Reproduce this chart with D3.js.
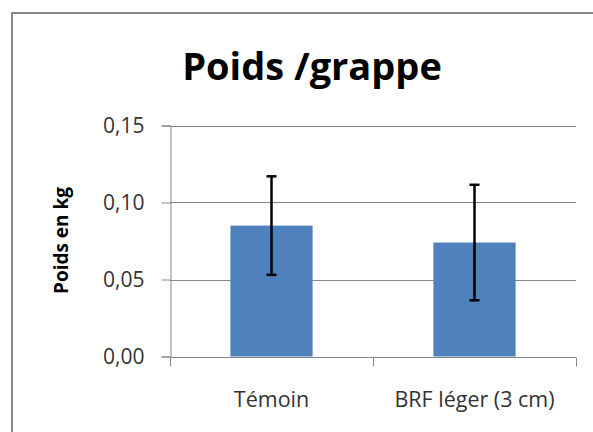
<!DOCTYPE html>
<html>
<head>
<meta charset="utf-8">
<script src="https://cdn.jsdelivr.net/npm/d3@7"></script>
<style>
  body { margin: 0; background: #fff; }
</style>
</head>
<body>
<div id="chart"></div>
<script>
const categories = ["Témoin", "BRF léger (3 cm)"];
const values = [0.085, 0.074];
const errors = [0.032, 0.0375];
const yTicks = [0, 0.05, 0.10, 0.15];

const width = 593, height = 432;
const margin = {top: 125.5, right: 17, bottom: 75.5, left: 170};

const svg = d3.select("#chart").append("svg")
    .attr("width", width)
    .attr("height", height);

// chart frame (runs off the picture on the right and bottom)
svg.append("rect")
    .attr("x", 12).attr("y", 13)
    .attr("width", 700).attr("height", 600)
    .attr("fill", "none")
    .attr("stroke", "#878787")
    .attr("stroke-width", 2);

const x = d3.scaleBand()
    .domain(categories)
    .range([margin.left, width - margin.right])
    .paddingInner(0.595)
    .paddingOuter(0.2975);

const y = d3.scaleLinear()
    .domain([0, 0.15])
    .range([height - margin.bottom, margin.top]);

const fmt = d => d3.format(".2f")(d).replace(".", ",");

// gridlines
svg.append("g")
    .selectAll("line")
    .data(yTicks.slice(1))
    .join("line")
    .attr("x1", margin.left).attr("x2", width - margin.right)
    .attr("y1", d => Math.round(y(d)) + 0.5).attr("y2", d => Math.round(y(d)) + 0.5)
    .attr("stroke", "#868686");

// y axis
const yAxis = svg.append("g")
    .attr("transform", `translate(${margin.left + 0.5},0)`)
    .call(d3.axisLeft(y).tickValues(yTicks).tickFormat(fmt).tickSize(9).tickPadding(17));
yAxis.select(".domain").attr("stroke", "#868686");
yAxis.selectAll(".tick line").attr("stroke", "#868686");
yAxis.selectAll(".tick text")
    .attr("fill", "#333")
    .style("font-family", "'Open Sans', sans-serif")
    .style("font-size", "21px");

// x axis
const xAxisY = Math.round(y(0)) + 0.5;
svg.append("line")
    .attr("x1", margin.left).attr("x2", width - margin.right)
    .attr("y1", xAxisY).attr("y2", xAxisY)
    .attr("stroke", "#868686");
const step = x.step();
const bounds = [margin.left, margin.left + step, margin.left + 2 * step];
svg.append("g")
    .selectAll("line")
    .data(bounds)
    .join("line")
    .attr("x1", d => Math.round(d) + 0.5).attr("x2", d => Math.round(d) + 0.5)
    .attr("y1", xAxisY).attr("y2", xAxisY + 9)
    .attr("stroke", "#868686");

svg.append("g")
    .selectAll("text")
    .data(categories)
    .join("text")
    .attr("x", d => x(d) + x.bandwidth() / 2)
    .attr("y", 406.5)
    .attr("text-anchor", "middle")
    .attr("fill", "#333")
    .style("font-family", "'Open Sans', sans-serif")
    .style("font-size", "21.5px")
    .text(d => d);

// bars
svg.append("g")
    .selectAll("rect")
    .data(categories)
    .join("rect")
    .attr("x", d => x(d))
    .attr("y", (d, i) => y(values[i]))
    .attr("width", x.bandwidth())
    .attr("height", (d, i) => y(0) - y(values[i]))
    .attr("fill", "#4F81BD");

// error bars
const eb = svg.append("g")
    .attr("stroke", "#000")
    .attr("stroke-width", 2.5);
categories.forEach((c, i) => {
    const cx = x(c) + x.bandwidth() / 2;
    const top = y(values[i] + errors[i]), bot = y(values[i] - errors[i]);
    eb.append("line").attr("x1", cx).attr("x2", cx).attr("y1", top).attr("y2", bot);
    eb.append("line").attr("x1", cx - 5).attr("x2", cx + 5).attr("y1", top).attr("y2", top);
    eb.append("line").attr("x1", cx - 5).attr("x2", cx + 5).attr("y1", bot).attr("y2", bot);
});

// title
svg.append("text")
    .attr("x", 312)
    .attr("y", 80)
    .attr("text-anchor", "middle")
    .attr("fill", "#000")
    .style("font-family", "'Open Sans', sans-serif")
    .style("font-weight", "bold")
    .style("font-size", "38px")
    .text("Poids /grappe");

// y axis title
svg.append("text")
    .attr("transform", "translate(68,240.5) rotate(-90)")
    .attr("text-anchor", "middle")
    .attr("fill", "#000")
    .style("font-family", "'Open Sans', sans-serif")
    .style("font-weight", "bold")
    .style("font-size", "19px")
    .text("Poids en kg");
</script>
</body>
</html>
